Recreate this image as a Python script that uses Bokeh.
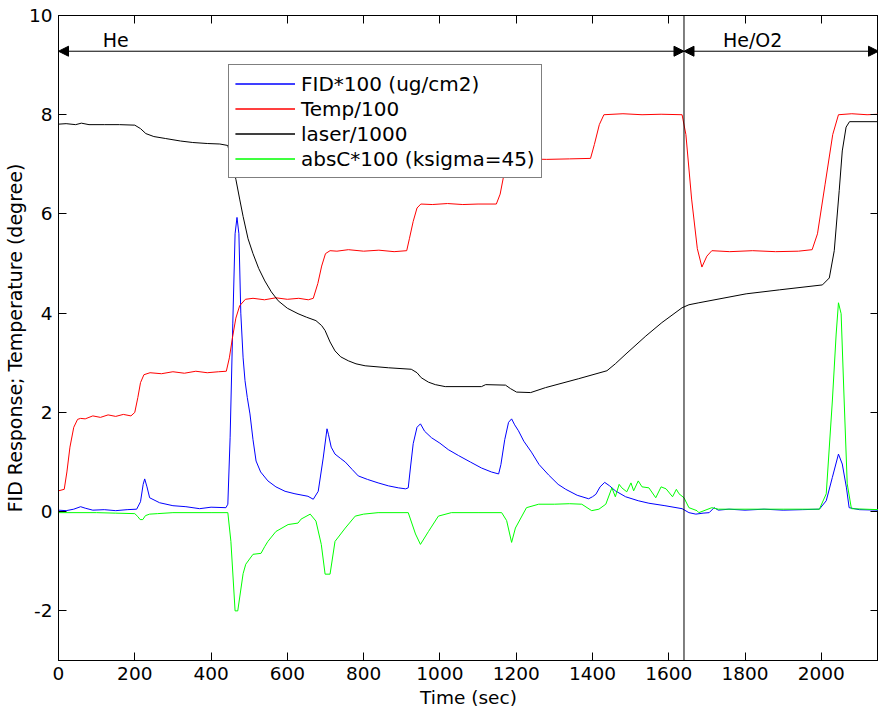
from bokeh.plotting import figure
from bokeh.models import (ColumnDataSource, Range1d, LinearAxis, FixedTicker, Span,
                          Arrow, NormalHead, Legend, LegendItem)
from bokeh.core.properties import value
from bokeh.embed import file_html
from bokeh.resources import INLINE

FONT = "DejaVu Sans"

# ---------------- data (time in sec, value) ----------------
fid = [(0, 0.03), (20, 0.02), (40, 0.05), (58, 0.1), (70, 0.07), (90, 0.03), (120, 0.04),
       (150, 0.02), (180, 0.04), (205, 0.05), (215, 0.2), (222, 0.55), (226, 0.66), (232, 0.5),
       (239, 0.28), (265, 0.18), (300, 0.12), (334, 0.1), (370, 0.06), (400, 0.09), (439, 0.08),
       (444, 0.15), (450, 1.5), (457, 3.8), (463, 5.6), (468, 5.93), (473, 5.6), (478, 4.0),
       (484, 3.1), (489, 2.64), (495, 2.3), (502, 1.97), (510, 1.45), (518, 1.02), (530, 0.8),
       (549, 0.62), (570, 0.5), (594, 0.41), (620, 0.36), (654, 0.31), (668, 0.25), (681, 0.41),
       (694, 1.08), (704, 1.67), (708, 1.55), (715, 1.3), (725, 1.16), (740, 1.07), (752, 1.0),
       (770, 0.85), (786, 0.72), (810, 0.65), (838, 0.58), (865, 0.52), (891, 0.48), (910, 0.46),
       (917, 0.48), (923, 0.9), (930, 1.37), (940, 1.7), (949, 1.77), (960, 1.62), (978, 1.49),
       (1000, 1.38), (1022, 1.25), (1049, 1.13), (1080, 1.0), (1109, 0.88), (1135, 0.8),
       (1154, 0.76), (1160, 0.95), (1170, 1.45), (1180, 1.8), (1188, 1.87), (1196, 1.75),
       (1206, 1.63), (1220, 1.42), (1240, 1.2), (1260, 0.95), (1285, 0.74), (1310, 0.55),
       (1330, 0.45), (1360, 0.33), (1390, 0.26), (1400, 0.3), (1409, 0.35), (1420, 0.5),
       (1432, 0.59), (1445, 0.52), (1460, 0.42), (1487, 0.3), (1520, 0.22), (1548, 0.17),
       (1590, 0.12), (1635, 0.06), (1653, -0.02), (1671, -0.05), (1690, -0.03), (1706, -0.02),
       (1719, 0.08), (1730, 0.03), (1758, 0.05), (1800, 0.03), (1850, 0.05), (1900, 0.03),
       (1950, 0.04), (1995, 0.05), (2013, 0.22), (2029, 0.69), (2045, 1.16), (2055, 0.96),
       (2066, 0.48), (2073, 0.08), (2100, 0.04), (2150, 0.03)]

temp = [(0, 0.42), (15, 0.45), (22, 0.8), (30, 1.3), (40, 1.7), (50, 1.86), (58, 1.88),
        (70, 1.87), (90, 1.93), (110, 1.9), (130, 1.95), (150, 1.92), (170, 1.96), (190, 1.93),
        (200, 2.0), (208, 2.3), (215, 2.6), (224, 2.76), (240, 2.8), (270, 2.78), (300, 2.82),
        (330, 2.79), (360, 2.83), (390, 2.8), (420, 2.82), (440, 2.83), (448, 3.1), (456, 3.5),
        (465, 3.9), (475, 4.15), (490, 4.28), (510, 4.3), (540, 4.27), (570, 4.31), (600, 4.28),
        (630, 4.3), (655, 4.27), (668, 4.3), (680, 4.6), (690, 4.95), (700, 5.2), (712, 5.26),
        (730, 5.25), (760, 5.28), (800, 5.25), (840, 5.27), (880, 5.24), (913, 5.26), (920, 5.5),
        (930, 5.85), (940, 6.12), (950, 6.2), (980, 6.19), (1020, 6.21), (1060, 6.19), (1100, 6.2),
        (1148, 6.2), (1158, 6.4), (1168, 6.8), (1180, 7.1), (1220, 7.11), (1280, 7.1), (1340, 7.11),
        (1395, 7.12), (1405, 7.4), (1418, 7.8), (1430, 8.0), (1480, 8.02), (1530, 8.0), (1580, 8.01),
        (1635, 8.0), (1645, 7.6), (1660, 6.3), (1675, 5.3), (1687, 4.93), (1700, 5.15), (1713, 5.26),
        (1760, 5.24), (1820, 5.26), (1880, 5.24), (1940, 5.25), (1976, 5.28), (1990, 5.6),
        (2010, 6.6), (2030, 7.6), (2045, 8.0), (2080, 8.02), (2120, 8.0), (2150, 8.01)]

laser = [(0, 7.81), (20, 7.82), (45, 7.80), (60, 7.83), (80, 7.80), (120, 7.80), (160, 7.80),
         (200, 7.79), (215, 7.72), (229, 7.62), (250, 7.56), (281, 7.52), (320, 7.47), (352, 7.44),
         (390, 7.42), (423, 7.41), (444, 7.38), (452, 7.1), (465, 6.7), (475, 6.3), (484, 5.95),
         (497, 5.5), (510, 5.2), (525, 4.9), (541, 4.65), (558, 4.43), (576, 4.25), (600, 4.1),
         (628, 3.99), (650, 3.92), (675, 3.85), (690, 3.75), (699, 3.65), (712, 3.42), (725, 3.24),
         (740, 3.12), (760, 3.04), (780, 2.98), (804, 2.94), (865, 2.9), (925, 2.87), (940, 2.8),
         (951, 2.70), (970, 2.61), (988, 2.56), (1014, 2.52), (1109, 2.52), (1120, 2.56),
         (1172, 2.55), (1185, 2.48), (1201, 2.41), (1238, 2.40), (1277, 2.5), (1364, 2.68),
         (1438, 2.84), (1460, 2.98), (1488, 3.18), (1540, 3.54), (1582, 3.81), (1635, 4.11),
         (1653, 4.17), (1679, 4.21), (1803, 4.39), (1890, 4.47), (2003, 4.57), (2021, 4.71),
         (2034, 5.26), (2047, 6.47), (2055, 7.27), (2065, 7.75), (2074, 7.86), (2150, 7.86)]

absc = [(0, -0.02), (100, -0.02), (150, -0.03), (200, -0.04), (208, -0.1), (214, -0.16),
        (221, -0.16), (228, -0.08), (239, -0.05), (260, -0.04), (300, -0.02), (400, -0.02),
        (444, -0.02), (452, -0.6), (463, -2.0), (470, -2.0), (484, -1.25), (491, -1.06),
        (510, -0.86), (531, -0.84), (541, -0.70), (549, -0.6), (570, -0.4), (602, -0.26),
        (628, -0.23), (636, -0.15), (660, -0.05), (675, -0.19), (689, -0.66), (699, -1.26),
        (712, -1.26), (725, -0.6), (752, -0.33), (778, -0.09), (800, -0.05), (838, -0.02),
        (917, -0.02), (936, -0.45), (949, -0.66), (970, -0.4), (996, -0.09), (1030, -0.02),
        (1100, -0.02), (1162, -0.02), (1175, -0.18), (1188, -0.62), (1198, -0.33), (1227, 0.08),
        (1259, 0.15), (1300, 0.15), (1340, 0.16), (1372, 0.15), (1398, 0.02), (1417, 0.05),
        (1435, 0.15), (1451, 0.48), (1460, 0.3), (1470, 0.55), (1477, 0.48), (1490, 0.4),
        (1501, 0.58), (1508, 0.42), (1520, 0.62), (1530, 0.5), (1548, 0.48), (1566, 0.28),
        (1580, 0.5), (1593, 0.46), (1610, 0.3), (1620, 0.45), (1627, 0.36), (1640, 0.28),
        (1653, 0.08), (1674, 0.02), (1679, -0.02), (1713, 0.08), (1730, 0.05), (1800, 0.05),
        (1900, 0.05), (1995, 0.05), (2013, 0.36), (2029, 2.23), (2039, 3.58), (2045, 4.21),
        (2052, 3.99), (2060, 2.23), (2068, 0.56), (2079, 0.06), (2150, 0.04)]

series_names = ["FID*100 (ug/cm2)", "Temp/100", "laser/1000", "absC*100 (ksigma=45)"]
series_data = [fid, temp, laser, absc]
series_colors = ["#0000ff", "#ff0000", "#000000", "#00ff00"]

phase_boundary = 1640
phase_names = ["He", "He/O2"]
x_ticks = [0, 200, 400, 600, 800, 1000, 1200, 1400, 1600, 1800, 2000]
y_ticks = [-2, 0, 2, 4, 6, 8, 10]
y_tick_labels = {-2: "-2", 0: "0", 2: "2", 4: "4", 6: "6", 8: "8", 10: "10"}

# ---------------- figure ----------------
p = figure(width=878, height=715, output_backend="svg", toolbar_location=None,
           x_range=Range1d(0, 2150), y_range=Range1d(-3, 10),
           min_border_left=56, min_border_right=0, min_border_top=15, min_border_bottom=55)
p.background_fill_color = "white"
p.border_fill_color = "white"
p.outline_line_color = "black"
p.grid.visible = False

for ax in (p.xaxis[0], p.yaxis[0]):
    ax.major_tick_in = 8
    ax.major_tick_out = 0
    ax.minor_tick_in = 0
    ax.minor_tick_out = 0
    ax.axis_line_color = "black"
    ax.major_tick_line_color = "black"
    ax.major_label_text_font = FONT
    ax.major_label_text_font_size = "18.5px"
    ax.major_label_text_color = "black"
    ax.axis_label_text_font = FONT
    ax.axis_label_text_font_style = "normal"
    ax.axis_label_text_color = "black"

p.xaxis[0].ticker = FixedTicker(ticks=x_ticks)
p.yaxis[0].ticker = FixedTicker(ticks=y_ticks)
p.yaxis[0].major_label_overrides = y_tick_labels
p.xaxis[0].axis_label = "Time (sec)"
p.yaxis[0].axis_label = "FID Response; Temperature (degree)"
p.xaxis[0].axis_label_text_font_size = "18.5px"
p.yaxis[0].axis_label_text_font_size = "19px"
p.xaxis[0].major_label_standoff = 6
p.xaxis[0].axis_label_standoff = 4
p.yaxis[0].major_label_standoff = 6
p.yaxis[0].axis_label_standoff = 0

# mirrored ticks on top and right
top = LinearAxis(ticker=FixedTicker(ticks=x_ticks))
right = LinearAxis(ticker=FixedTicker(ticks=y_ticks))
for ax, ticks in ((top, x_ticks), (right, y_ticks)):
    ax.major_tick_in = 8
    ax.major_tick_out = 0
    ax.minor_tick_in = 0
    ax.minor_tick_out = 0
    ax.major_label_text_font_size = "0px"
    ax.major_label_standoff = 0
    ax.axis_label_standoff = 0
    ax.major_label_overrides = {t: "" for t in ticks}
    ax.axis_line_color = "black"
p.add_layout(top, "above")
p.add_layout(right, "right")

items = []
for name, data, color in zip(series_names, series_data, series_colors):
    src = ColumnDataSource(dict(t=[d[0] for d in data], v=[d[1] for d in data]))
    r = p.line("t", "v", source=src, line_color=color, line_width=1)
    items.append(LegendItem(label=name, renderers=[r, r]))

legend = Legend(items=items, location=(170, 482))
legend.label_text_font = FONT
legend.label_text_font_size = "20px"
legend.label_text_color = "black"
legend.border_line_color = "black"
legend.border_line_width = 1
legend.background_fill_color = "white"
legend.background_fill_alpha = 1
legend.padding = 6
legend.margin = 0
legend.spacing = 0
legend.glyph_width = 60
legend.glyph_height = 25
legend.label_height = 25
legend.label_standoff = 6
p.add_layout(legend, "center")

# phase separator and arrows
p.add_layout(Span(location=phase_boundary, dimension="height", line_color="black", line_width=1))
p.add_layout(Arrow(start=NormalHead(size=10, fill_color="black", line_color="black"),
                   end=NormalHead(size=10, fill_color="black", line_color="black"),
                   x_start=0, y_start=9.28, x_end=phase_boundary, y_end=9.28,
                   line_color="black", line_width=1))
p.add_layout(Arrow(start=NormalHead(size=10, fill_color="black", line_color="black"),
                   end=NormalHead(size=10, fill_color="black", line_color="black"),
                   x_start=phase_boundary, y_start=9.28, x_end=2150, y_end=9.28,
                   line_color="black", line_width=1))
p.text(x=[150, 1820], y=[9.5, 9.5], text=phase_names, text_font=value(FONT),
       text_font_size="19px", text_align="center", text_baseline="middle", text_color="black")

open("out.html", "w").write(file_html(p, INLINE))
